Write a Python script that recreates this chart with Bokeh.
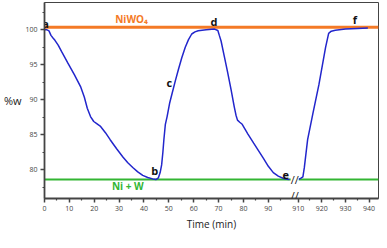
from bokeh.plotting import figure
from bokeh.models import FixedTicker, CustomJSTickFormatter, Label, Range1d
from bokeh.core.properties import value
from bokeh.embed import file_html
from bokeh.resources import INLINE

# ---- data (time in min, mass %) ----
t_first = [0, 1.0, 1.8, 2.6, 3.5, 4.2, 5.5, 7.0, 9.3, 12.0, 14.6, 16.0, 17.2, 18.5,
           19.8, 21.0, 22.4, 24.5, 26.4, 29.0, 31.6, 33.5, 35.6, 37.5, 39.5, 41.5,
           43.5, 44.8, 45.8, 46.5, 47.1, 47.6, 48.0, 48.6, 49.3, 50.3, 51.3, 52.6,
           53.9, 55.2, 56.6, 57.9, 59.2, 60.5, 61.8, 65.0, 68.4, 69.7, 70.3, 71.0,
           72.3, 73.6, 75.0, 76.3, 77.0, 77.6, 78.5, 79.5, 81.8, 84.1, 86.1, 88.1,
           90.0, 92.0, 94.0, 95.9, 97.5, 98.5]
w_first = [100.0, 100.0, 99.85, 99.2, 98.8, 98.5, 97.8, 96.8, 95.3, 93.6, 91.8, 90.4, 88.8, 87.6,
           86.9, 86.6, 86.25, 85.3, 84.3, 83.0, 81.8, 81.0, 80.3, 79.7, 79.2, 78.9,
           78.7, 78.6, 78.86, 79.6, 80.7, 82.5, 84.3, 86.5, 87.6, 89.5, 90.9, 92.7,
           94.4, 96.0, 97.5, 98.6, 99.4, 99.7, 99.87, 100.0, 100.1, 99.9, 99.2, 98.4,
           96.2, 94.0, 91.5, 89.0, 87.8, 87.1, 86.8, 86.5, 85.1, 83.8, 82.7, 81.6,
           80.5, 79.6, 79.1, 78.8, 78.65, 78.6]
t_second = [910.0, 911.2, 912.0, 912.6, 913.3, 914.0, 916.2, 918.8, 921.6, 922.9,
            924.0, 925.7, 930.0, 935.0, 939.5]
w_second = [78.6, 78.8, 79.0, 80.3, 82.3, 84.3, 88.0, 92.2, 97.5, 99.5,
            99.8, 99.95, 100.1, 100.2, 100.27]

niwo4_level = 100.35
niw_level = 78.6

x_major_times = [0, 10, 20, 30, 40, 50, 60, 70, 80, 90, 910, 920, 930, 940]
x_minor_times = [5, 15, 25, 35, 45, 55, 65, 75, 85, 95, 915, 925, 935]
y_major = [80, 85, 90, 95, 100]
y_minor = [77.5, 82.5, 87.5, 92.5, 97.5, 102.5]

letters = ["a", "b", "c", "d", "e", "f"]
letter_t = [0.4, 44.3, 50.2, 68.1, 97.0, 934.0]
letter_w = [100.97, 79.9, 92.5, 101.15, 79.3, 101.5]

# ---- broken time axis ----
BREAK_SHIFT_T = 910.0
BREAK_POS = 102.0
COMPRESS = 0.95


def pos(t):
    if t >= 900:
        return BREAK_POS + (t - BREAK_SHIFT_T) * COMPRESS
    return t


FONT = "Open Sans"

p = figure(frame_width=334, frame_height=196, output_backend="svg", toolbar_location=None,
           x_range=Range1d(0, 134.3), y_range=Range1d(75.9, 103.9),
           min_border_left=0, min_border_right=2, min_border_top=2, min_border_bottom=0)
p.grid.visible = False
p.background_fill_color = "white"
p.border_fill_color = "white"
p.outline_line_color = "#444444"
p.outline_line_width = 1

# reference lines
p.line([0, 134.3], [niwo4_level, niwo4_level], line_color="#f47a26", line_width=3)
p.line([0, 134.3], [niw_level, niw_level], line_color="#33b533", line_width=2)

# curve
p.line([pos(t) for t in t_first], w_first, line_color="#2226cc", line_width=1.5)
p.line([pos(t) for t in t_second], w_second, line_color="#2226cc", line_width=1.5)

# axes
xpos = [pos(t) for t in x_major_times]
p.xaxis.ticker = FixedTicker(ticks=xpos, minor_ticks=[pos(t) for t in x_minor_times])
p.xaxis.formatter = CustomJSTickFormatter(
    args=dict(pos=xpos, labs=[str(t) for t in x_major_times]),
    code="const i = pos.findIndex(v => Math.abs(v - tick) < 1e-6); return i >= 0 ? labs[i] : '';")
p.yaxis.ticker = FixedTicker(ticks=y_major, minor_ticks=y_minor)

for ax in (p.xaxis[0], p.yaxis[0]):
    ax.axis_line_color = "#444444"
    ax.axis_line_width = 1.8
    ax.major_tick_line_color = "#444444"
    ax.major_tick_line_width = 1.5
    ax.minor_tick_line_color = "#444444"
    ax.minor_tick_line_width = 1.2
    ax.major_tick_in = 0
    ax.major_tick_out = 4
    ax.minor_tick_in = 0
    ax.minor_tick_out = 2
    ax.major_label_text_font = FONT
    ax.major_label_text_font_size = "7px"
    ax.major_label_text_color = "#444444"
    ax.major_label_standoff = 3
    ax.axis_label_text_font = FONT
    ax.axis_label_text_font_style = "normal"
    ax.axis_label_text_color = "#222222"

p.xaxis.axis_label = "Time (min)"
p.xaxis.axis_label_text_font_size = "10px"
p.xaxis.axis_label_standoff = 3
p.yaxis.axis_label = "%w"
p.yaxis.axis_label_text_font_size = "11px"
p.yaxis.axis_label_orientation = "horizontal"
p.yaxis.axis_label_standoff = 1

# texts
p.text(x=[35.0], y=[101.5], text=["NiWO\u2084"], text_color="#f47a26",
       text_font=value(FONT), text_font_style="bold", text_font_size="10px",
       text_align="center", text_baseline="middle")
p.text(x=[33.5], y=[77.75], text=["Ni + W"], text_color="#33b533",
       text_font=value(FONT), text_font_style="bold", text_font_size="10px",
       text_align="center", text_baseline="middle")
p.text(x=[pos(t) for t in letter_t], y=letter_w, text=letters, text_color="#111111",
       text_font=value(FONT), text_font_style="bold", text_font_size="11px",
       text_align="center", text_baseline="middle")

# axis break marks
p.add_layout(Label(x=100.6, y=76.35, text="//", text_align="center", text_baseline="middle",
                   text_font=FONT, text_font_size="11px", text_color="#222222", level="overlay"))
p.add_layout(Label(x=100.6, y=niw_level, text="//", text_align="center", text_baseline="middle",
                   text_font=FONT, text_font_size="11px", text_color="#222222",
                   background_fill_color="white"))

open("out.html", "w").write(file_html(p, INLINE))
